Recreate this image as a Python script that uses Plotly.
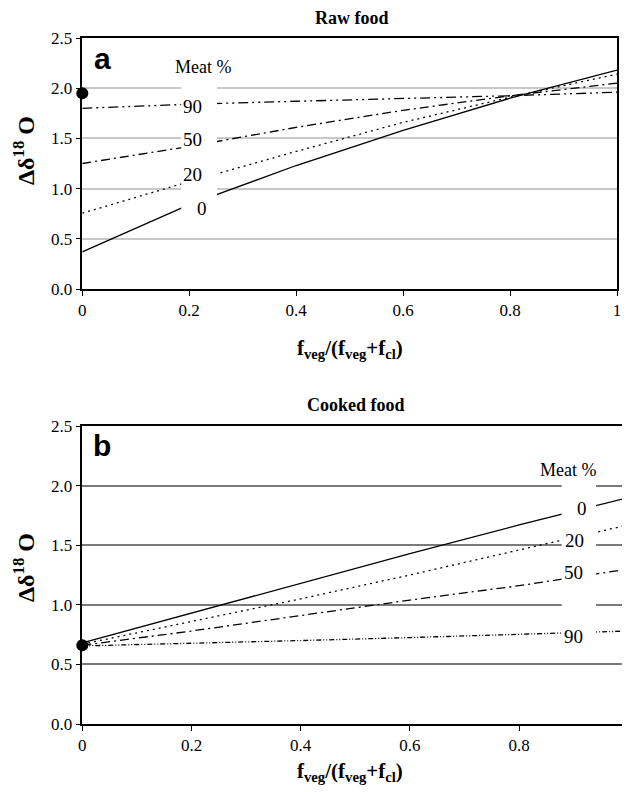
import plotly.graph_objects as go

# ---- data ----
x_frac = [0, 0.2, 0.4, 0.6, 0.8, 1.0]
meat_levels = ["0", "20", "50", "90"]

raw_0 = [0.37, 0.84, 1.23, 1.58, 1.90, 2.18]
raw_20 = [0.755, 1.07, 1.37, 1.66, 1.91, 2.14]
raw_50 = [1.25, 1.42, 1.61, 1.78, 1.925, 2.05]
raw_90 = [1.80, 1.84, 1.87, 1.895, 1.925, 1.96]
raw_point = (0, 1.95)

cooked_0 = [0.68, 0.93, 1.18, 1.43, 1.67, 1.90]
cooked_20 = [0.67, 0.86, 1.05, 1.25, 1.46, 1.67]
cooked_50 = [0.66, 0.78, 0.91, 1.04, 1.16, 1.30]
cooked_90 = [0.655, 0.675, 0.70, 0.725, 0.755, 0.78]
cooked_point = (0, 0.66)

y_ticks = [0.0, 0.5, 1.0, 1.5, 2.0, 2.5]
x_ticks = [0, 0.2, 0.4, 0.6, 0.8, 1.0]
x_ticklabels = ["0", "0.2", "0.4", "0.6", "0.8", "1"]

SERIF = "Liberation Serif"
SANS = "Liberation Sans"

dash_a = {"0": "solid", "20": "2px,4px", "50": "9px,4px,2px,4px",
          "90": "10px,4px,2px,4px,2px,4px"}
dash_b = {"0": "solid", "20": "2px,4px", "50": "9px,4px,2px,4px",
          "90": "5px,2px,1px,2px,1px,2px"}

fig = go.Figure()

raw_series = dict(zip(meat_levels, [raw_0, raw_20, raw_50, raw_90]))
cooked_series = dict(zip(meat_levels, [cooked_0, cooked_20, cooked_50, cooked_90]))

for m, ys in raw_series.items():
    fig.add_trace(go.Scatter(x=x_frac, y=ys, mode="lines", xaxis="x", yaxis="y",
                             line=dict(color="black", width=1.3, dash=dash_a[m]),
                             showlegend=False))
for m, ys in cooked_series.items():
    fig.add_trace(go.Scatter(x=x_frac, y=ys, mode="lines", xaxis="x2", yaxis="y2",
                             line=dict(color="black", width=1.3, dash=dash_b[m]),
                             showlegend=False))

fig.add_trace(go.Scatter(x=[raw_point[0]], y=[raw_point[1]], mode="markers",
                         xaxis="x", yaxis="y", cliponaxis=False,
                         marker=dict(color="black", size=12), showlegend=False))
fig.add_trace(go.Scatter(x=[cooked_point[0]], y=[cooked_point[1]], mode="markers",
                         xaxis="x2", yaxis="y2", cliponaxis=False,
                         marker=dict(color="black", size=12), showlegend=False))

W, H = 630, 792
OFF = 8  # page body margin
def py(px):
    return 1 - (px - OFF) / H
def pxx(px):
    return (px - OFF) / W

xa_common = dict(range=[0, 1], tickvals=x_ticks, ticktext=x_ticklabels, automargin=False,
                 showline=True, linecolor="black", linewidth=1.5, mirror=True,
                 ticks="outside", ticklen=5, tickcolor="black", showgrid=False,
                 zeroline=False, tickfont=dict(family=SERIF, size=17, color="black"))
ya_common = dict(range=[0, 2.5], tickvals=y_ticks, tickformat=".1f", automargin=False,
                 showline=True, linecolor="black", linewidth=1.5, mirror=True,
                 ticks="outside", ticklen=5, tickcolor="black",
                 zeroline=False, tickfont=dict(family=SERIF, size=17, color="black"))

fig.update_layout(
    width=W, height=H,
    margin=dict(l=0, r=0, t=0, b=0, autoexpand=False),
    paper_bgcolor="white", plot_bgcolor="white",
    xaxis=dict(domain=[pxx(82.3), pxx(617)], anchor="y", **xa_common),
    yaxis=dict(domain=[py(289), py(38)], anchor="x", showgrid=True,
               gridcolor="#c8c8c8", gridwidth=1.5, **ya_common),
    xaxis2=dict(domain=[pxx(82.3), pxx(628.3)], anchor="y2", **xa_common),
    yaxis2=dict(domain=[py(724), py(426)], anchor="x2", showgrid=True,
                gridcolor="#7a7a7a", gridwidth=1.5, **ya_common),
)

# white gaps behind the series labels
fig.add_shape(type="rect", xref="x", yref="y", x0=0.185, x1=0.252, y0=0.72, y1=2.04,
              fillcolor="white", line=dict(width=0), layer="above")
fig.add_shape(type="rect", xref="x2", yref="y2", x0=0.878, x1=0.941, y0=0.6, y1=2.03,
              fillcolor="white", line=dict(width=0), layer="above")

lab_font = dict(family=SERIF, size=19, color="black")
meat_font = dict(family=SERIF, size=18, color="black")
ann = []
def add(**kw):
    kw.setdefault("showarrow", False)
    kw.setdefault("xanchor", "center")
    kw.setdefault("yanchor", "middle")
    ann.append(kw)

# panel a labels
add(x=0.226, y=2.21, xref="x", yref="y", text="Meat %", font=meat_font)
for txt, xx, yy in [("90", 0.207, 1.82), ("50", 0.207, 1.487), ("20", 0.207, 1.138),
                    ("0", 0.224, 0.805)]:
    add(x=xx, y=yy, xref="x", yref="y", text=txt, font=lab_font)
# panel b labels
add(x=0.89, y=2.13, xref="x2", yref="y2", text="Meat %", font=meat_font)
for txt, xx, yy in [("0", 0.915, 1.808), ("20", 0.901, 1.542), ("50", 0.899, 1.268),
                    ("90", 0.899, 0.73)]:
    add(x=xx, y=yy, xref="x2", yref="y2", text=txt, font=lab_font)

# panel letters
add(x=pxx(102), y=py(58), xref="paper", yref="paper", text="<b>a</b>",
    font=dict(family=SANS, size=30, color="black"))
add(x=pxx(102), y=py(446), xref="paper", yref="paper", text="<b>b</b>",
    font=dict(family=SANS, size=30, color="black"))

# titles
add(x=pxx(352), y=py(18), xref="paper", yref="paper", text="<b>Raw food</b>",
    font=dict(family=SERIF, size=18, color="black"))
add(x=pxx(356), y=py(405), xref="paper", yref="paper", text="<b>Cooked food</b>",
    font=dict(family=SERIF, size=18, color="black"))

# x-axis titles
xt = "<b>f<sub>veg</sub>/(f<sub>veg</sub>+f<sub>cl</sub>)</b>"
add(x=pxx(350), y=py(349), xref="paper", yref="paper", text=xt,
    font=dict(family=SERIF, size=21, color="black"))
add(x=pxx(350), y=py(772), xref="paper", yref="paper", text=xt,
    font=dict(family=SERIF, size=21, color="black"))

# y-axis titles
yt = "<b>Δδ<sup>18</sup> O</b>"
add(x=pxx(24), y=py(151), xref="paper", yref="paper", text=yt, textangle=-90,
    font=dict(family=SERIF, size=24, color="black"))
add(x=pxx(24), y=py(568), xref="paper", yref="paper", text=yt, textangle=-90,
    font=dict(family=SERIF, size=24, color="black"))

fig.update_layout(annotations=ann)
fig.write_html("out.html")
